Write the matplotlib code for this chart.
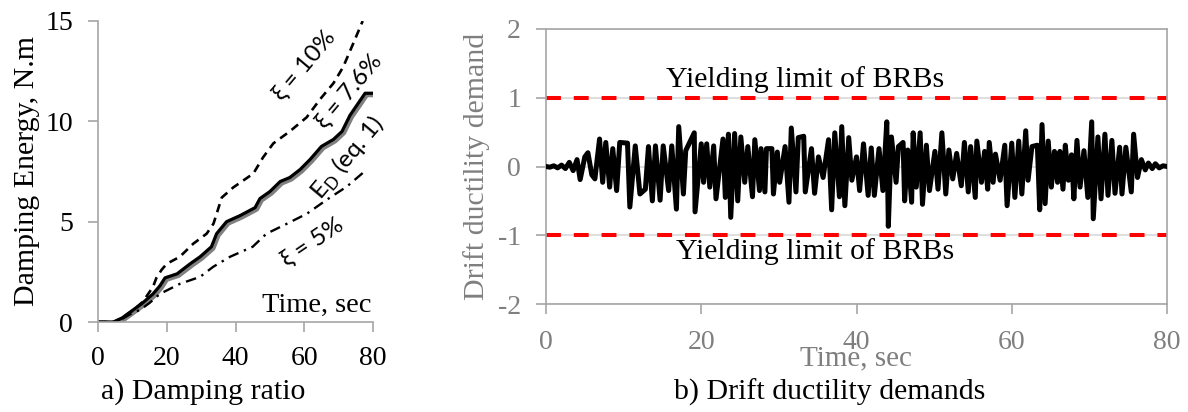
import numpy as np
import matplotlib
matplotlib.use("Agg")
import matplotlib.pyplot as plt
import matplotlib.patheffects as pe

# ---------------- data: panel a ----------------
ed_t = [0, 4.5, 7, 10.2, 13, 16, 18, 19.5, 23, 26.8, 29.7, 33, 34.5, 37.4, 41.3, 45.7, 47.1,
        50, 53, 55.8, 58.8, 61.7, 65, 68.5, 71, 73.3, 75.7, 77.7, 80]
ed_v = [0, 0, 0.2, 0.6, 0.95, 1.4, 1.8, 2.2, 2.4, 2.9, 3.25, 3.75, 4.4, 5.0, 5.3, 5.7, 6.15,
        6.5, 7.0, 7.2, 7.6, 8.1, 8.75, 9.1, 9.5, 10.3, 10.9, 11.4, 11.4]

x10_t = [0, 4.5, 7, 10, 13, 16, 17, 18.5, 20, 23.8, 27.7, 31.6, 33.6, 36, 39.3, 45.2, 48, 51,
         55.8, 60.7, 64.6, 68.5, 71.3, 74.3, 77]
x10_v = [0, 0, 0.2, 0.55, 1.0, 1.75, 2.2, 2.6, 2.9, 3.25, 3.9, 4.4, 4.9, 6.2, 6.7, 7.4, 8.2, 8.9,
         9.5, 10.2, 11.1, 11.9, 12.7, 13.9, 15.0]

x5_t = [0, 4.5, 7, 10, 12.2, 15, 18, 23.8, 29.7, 33.5, 38.4, 45, 49, 55, 60.8, 66.6, 72.4, 78.2]
x5_v = [0, 0, 0.15, 0.45, 0.6, 0.95, 1.4, 1.9, 2.25, 2.75, 3.25, 3.75, 4.4, 4.9, 5.4, 6.1, 6.75, 7.6]

# ---------------- data: panel b ----------------
early_t = [0, 0.5, 1.0, 1.5, 2.0, 2.5, 3.0, 3.5, 4.0, 4.4, 5.0, 5.4, 5.9]
early_v = [0, -0.01, 0.01, -0.02, 0.02, -0.03, 0.06, -0.06, 0.1, -0.19, 0.14, 0.2, -0.12]

peak_t = [6.9, 7.7, 8.6, 9.5, 10.5, 11.5, 13.2, 14.1, 15.1, 16.2, 17.1, 18.0, 19.1, 20.0, 20.7,
          21.6, 22.8, 23.5, 24.3, 25.1, 26.0, 26.9, 27.7, 28.4, 29.1, 29.8, 30.8, 31.6, 32.5, 33.2,
          34.2, 35.1, 36.4, 37.2, 38.1, 39.0, 40.0, 40.9, 41.9, 42.9, 43.9, 44.5, 45.4, 46.0, 46.6,
          47.3, 48.2, 49.0, 50.1, 51.0, 51.9, 52.9, 53.9, 54.7, 55.5, 56.5, 57.1, 57.9, 59.1, 60.0,
          60.9, 61.8, 62.6, 63.3, 63.9, 64.7, 65.5, 66.2, 66.9, 67.7, 68.4, 69.3, 70.3, 71.1, 72.0,
          72.9, 73.9, 74.7, 75.7, 76.7, 77.6, 78.5, 79.5]
peak_v = [0.4, 0.35, 0.26, 0.35, 0.34, 0.3, 0.29, 0.3, 0.3, 0.3, 0.58, 0.23, 0.49, 0.33, 0.33,
          0.3, 0.4, 0.47, 0.48, 0.43, 0.29, 0.39, 0.26, 0.26, 0.26, 0.21, 0.29, 0.56, 0.42, 0.44,
          0.26, 0.14, 0.39, 0.49, 0.58, 0.42, 0.14, 0.33, 0.27, 0.26, 0.65, 0.43, 0.29, 0.35, 0.24,
          0.49, 0.49, 0.31, 0.22, 0.49, 0.24, 0.19, 0.35, 0.29, 0.37, 0.22, 0.35, 0.18, 0.31, 0.34,
          0.37, 0.52, 0.29, 0.31, 0.61, 0.37, 0.22, 0.22, 0.31, 0.17, 0.38, 0.23, 0.65, 0.43, 0.47,
          0.38, 0.28, 0.28, 0.47, 0.1, 0.05, 0.04, 0.01]

trough_t = [6.3, 7.3, 8.2, 9.1, 10.8, 12.1, 12.8, 13.7, 14.7, 15.8, 16.8, 17.7, 19.2, 20.3, 21.1,
            21.9, 23.1, 23.8, 24.7, 25.6, 26.6, 27.5, 28.2, 29.3, 30.1, 31.3, 32.2, 33.4, 34.6, 35.7,
            36.8, 37.8, 38.5, 39.4, 40.4, 41.5, 42.3, 43.4, 44.1, 45.1, 46.2, 47.1, 47.7, 48.5, 49.4,
            50.5, 51.5, 52.4, 53.5, 54.4, 55.3, 56.1, 56.9, 57.6, 58.5, 59.4, 60.4, 61.3, 62.1, 63.6,
            64.3, 65.1, 65.9, 66.6, 67.3, 68.0, 68.8, 69.8, 70.5, 71.5, 72.4, 73.3, 74.2, 75.4, 76.2,
            77.2, 78.1, 79.0]
trough_v = [-0.18, -0.23, -0.3, -0.35, -0.59, -0.4, -0.33, -0.5, -0.49, -0.35, -0.62, -0.4, -0.66, -0.23, -0.3,
            -0.47, -0.45, -0.74, -0.5, -0.23, -0.44, -0.35, -0.37, -0.4, -0.23, -0.52, -0.37, -0.37, -0.39, -0.16,
            -0.63, -0.44, -0.57, -0.2, -0.35, -0.42, -0.42, -0.35, -0.87, -0.23, -0.5, -0.52, -0.3, -0.55, -0.35,
            -0.33, -0.4, -0.18, -0.28, -0.37, -0.45, -0.23, -0.33, -0.23, -0.2, -0.57, -0.45, -0.4, -0.2, -0.63,
            -0.54, -0.3, -0.23, -0.33, -0.2, -0.47, -0.3, -0.45, -0.76, -0.47, -0.42, -0.39, -0.4, -0.37, -0.16,
            -0.05, -0.03, -0.02]
end_t = [80]
end_v = [0.0]

yield_limit = [1, -1]
yield_label = "Yielding limit of BRBs"

# ---------------- style ----------------
SERIF = ["Liberation Serif", "DejaVu Serif"]
SANS = ["Lato", "DejaVu Sans"]
plt.rcParams["font.family"] = SERIF
plt.rcParams["mathtext.fontset"] = "custom"
plt.rcParams["mathtext.rm"] = "Lato"

GRAY_SPINE = "#a6a6a6"
GRAY_TXT = "#7f7f7f"
TICK_FS = 20
LABEL_FS = 21.5
ANNOT_FS = 17.5

fig = plt.figure(figsize=(11.88, 4.12), dpi=100)

# ---------------- panel a ----------------
axa = fig.add_axes([98 / 1188, 1 - 322 / 412, 275 / 1188, 301 / 412])
axa.plot(ed_t, ed_v, color="black", lw=2.3, solid_capstyle="butt",
         path_effects=[pe.SimpleLineShadow(offset=(1.2, -1.2), shadow_color="#808080", alpha=1.0, linewidth=3.4),
                       pe.Normal()])
axa.plot(x10_t, x10_v, color="black", lw=1.9, linestyle=(0, (3.2, 2.2)))
axa.plot(x5_t, x5_v, color="black", lw=1.7, linestyle=(0, (4.5, 2.5, 1, 2.5)))
axa.set_xlim(0, 80)
axa.set_ylim(0, 15)
axa.set_xticks([0, 20, 40, 60, 80])
axa.set_yticks([0, 5, 10, 15])
for s in ["top", "right"]:
    axa.spines[s].set_visible(False)
for s in ["left", "bottom"]:
    axa.spines[s].set_color(GRAY_SPINE)
    axa.spines[s].set_linewidth(1.2)
axa.tick_params(axis="both", direction="out", length=7, width=1.2, color=GRAY_SPINE,
                labelsize=TICK_FS, labelcolor="black")
axa.tick_params(axis="x", pad=10)
axa.tick_params(axis="y", pad=11)
axa.set_ylabel("Damping Energy, N.m", fontsize=LABEL_FS, color="black", labelpad=4)
axa.text(79.7, 0.85, "Time, sec", ha="right", va="center", fontsize=20.5, color="black")
axa.text(60.0, 12.8, "ξ = 10%", family=SANS, fontsize=ANNOT_FS, rotation=50, rotation_mode="anchor",
         ha="center", va="center")
axa.text(73.0, 11.5, "ξ = 7.6%", family=SANS, fontsize=ANNOT_FS, rotation=50, rotation_mode="anchor",
         ha="center", va="center")
axa.text(72.8, 8.2, r"E$_\mathregular{D}$ (eq. 1)", family=SANS, fontsize=ANNOT_FS, rotation=50,
         rotation_mode="anchor", ha="center", va="center")
axa.text(62.5, 4.0, "ξ = 5%", family=SANS, fontsize=ANNOT_FS, rotation=34, rotation_mode="anchor",
         ha="center", va="center")

# ---------------- panel b ----------------
axb = fig.add_axes([546 / 1188, 1 - 304 / 412, 621 / 1188, 275 / 412])
sig_t = np.array(early_t + peak_t + trough_t + end_t, dtype=float)
sig_v = np.array(early_v + peak_v + trough_v + end_v, dtype=float)
order = np.argsort(sig_t, kind="stable")
axb.plot(sig_t[order], sig_v[order], color="black", lw=3.6, solid_joinstyle="round", zorder=3)
for yl in yield_limit:
    axb.axhline(yl, color="red", lw=2.9, linestyle=(0, (3.7, 3.2)), zorder=2)
axb.set_xlim(0, 80)
axb.set_ylim(-2, 2)
axb.set_xticks([0, 20, 40, 60, 80])
axb.set_yticks([-2, -1, 0, 1, 2])
axb.set_yticklabels(["-2", "-1", "0", "1", "2"])
axb.grid(axis="y", color="#d9d9d9", lw=1.2, zorder=0)
axb.set_axisbelow(True)
for s in axb.spines.values():
    s.set_color(GRAY_SPINE)
    s.set_linewidth(1.2)
axb.tick_params(axis="both", direction="out", length=7, width=1.2, color=GRAY_SPINE,
                labelsize=TICK_FS, labelcolor=GRAY_TXT)
axb.tick_params(axis="x", pad=12)
axb.tick_params(axis="y", pad=11)
axb.set_ylabel("Drift ductility demand", fontsize=LABEL_FS, color=GRAY_TXT, labelpad=6)
axb.text(0.5, -0.196, "Time, sec", transform=axb.transAxes, ha="center", va="center",
         fontsize=21, color=GRAY_TXT)
axb.text(33.4, 1.27, yield_label, ha="center", va="center", fontsize=LABEL_FS, color="black")
axb.text(34.7, -1.24, yield_label, ha="center", va="center", fontsize=LABEL_FS, color="black")

# ---------------- captions ----------------
fig.text(203 / 1188, 1 - 392 / 412, "a) Damping ratio", ha="center", va="center", fontsize=LABEL_FS)
fig.text(830 / 1188, 1 - 392 / 412, "b) Drift ductility demands", ha="center", va="center", fontsize=LABEL_FS)

fig.savefig("out.png", dpi=100)
